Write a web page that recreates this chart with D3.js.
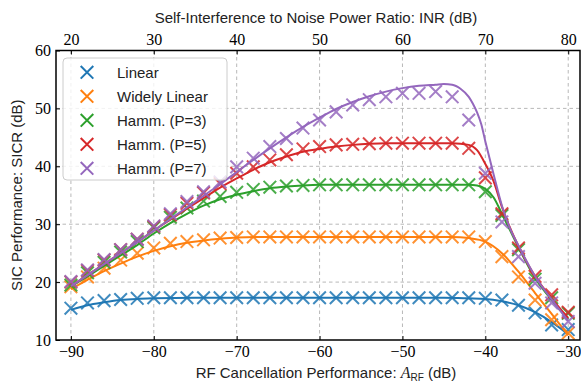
<!DOCTYPE html>
<html><head><meta charset="utf-8">
<script src="https://cdn.jsdelivr.net/npm/d3@7"></script>
<style>
body{margin:0;background:#fff;}
svg{display:block;}
</style></head>
<body><svg id="c" width="581" height="383"></svg>
<script>
// ---- data ----
const markerX = d3.range(-90, -29, 2); // -90 .. -30 step 2
const seriesNames = ["Linear", "Widely Linear", "Hamm. (P=3)", "Hamm. (P=5)", "Hamm. (P=7)"];
const seriesColors = ["#1f77b4", "#ff7f0e", "#2ca02c", "#d62728", "#9467bd"];

// simulated points (markers), one value per markerX
const linearPts = [15.5,16.4,16.8,17.0,17.2,17.3,17.3,17.3,17.3,17.3,17.3,17.3,17.3,17.3,17.3,17.3,17.3,17.3,17.3,17.3,17.3,17.3,17.3,17.3,17.3,17.2,16.9,16.0,14.7,12.6,11.8];
const wlPts = [19.2,20.9,22.4,23.8,25.0,25.9,26.7,27.0,27.3,27.6,27.7,27.8,27.8,27.8,27.8,27.8,27.8,27.8,27.8,27.8,27.8,27.8,27.8,27.8,27.8,27.0,24.4,20.9,16.9,13.5,11.2];
const p3Pts = [19.5,21.6,23.4,25.2,27.0,29.4,31.2,32.8,34.0,34.8,35.5,36.0,36.4,36.6,36.7,36.8,36.8,36.8,36.8,36.8,36.8,36.8,36.8,36.8,36.8,35.6,31.5,25.6,20.5,17.3,14.6];
const p5Pts = [20.0,22.0,23.8,25.6,27.4,29.6,31.6,33.6,35.4,37.0,38.8,39.9,41.1,42.0,43.0,43.4,43.7,43.8,43.9,44.0,44.0,44.0,44.0,44.0,43.1,38.0,31.8,25.9,21.0,17.8,14.8];
const p7Pts = [20.1,22.1,23.9,25.6,27.4,29.7,31.8,33.9,35.6,37.3,39.9,41.4,43.4,44.8,46.6,48.0,49.4,50.6,51.5,52.0,52.6,52.6,52.9,52.0,48.0,38.8,30.4,24.4,19.8,16.4,13.2];

// theoretical curves (lines): x positions and values
const linearLineX = [-90,-88,-86,-84,-82,-80,-75,-45,-42,-40,-38,-36,-34,-32,-30];
const linearLineY = [15.2,16.0,16.5,16.9,17.1,17.2,17.3,17.3,17.2,17.1,16.7,16.0,14.8,13.1,11.0];
const wlLineX = [-90,-88,-86,-84,-82,-80,-78,-76,-74,-72,-70,-66,-44,-42,-40,-38,-36,-34,-32,-30];
const wlLineY = [18.8,20.4,21.9,23.2,24.4,25.4,26.2,26.8,27.2,27.5,27.7,27.8,27.8,27.6,27.0,25.0,21.8,18.1,14.5,10.8];
const p3LineX = [-90,-88,-86,-84,-82,-80,-78,-76,-74,-72,-70,-68,-66,-64,-62,-60,-44,-42,-41,-40,-39,-38,-37,-36,-34,-32,-30];
const p3LineY = [19.2,21.0,22.8,24.6,26.4,28.4,30.2,31.8,33.2,34.3,35.1,35.7,36.2,36.5,36.7,36.8,36.8,36.8,36.7,36.1,34.6,31.8,28.9,26.0,20.7,16.9,13.6];
const p5LineX = [-90,-88,-86,-84,-82,-80,-78,-76,-74,-72,-70,-68,-66,-64,-62,-60,-58,-56,-54,-52,-44,-42,-41,-40,-39,-38,-37,-36,-34,-32,-30];
const p5LineY = [19.3,21.2,23.1,25.0,26.9,28.9,30.8,32.7,34.5,36.3,37.9,39.4,40.7,41.7,42.5,43.0,43.4,43.7,43.9,44.0,44.0,43.7,42.8,40.4,37.4,33.0,29.3,26.2,21.0,17.2,13.8];
const p7LineX = [-90,-88,-86,-84,-82,-80,-78,-76,-74,-72,-70,-68,-66,-64,-62,-60,-58,-56,-54,-52,-50,-48,-46,-45,-44,-43,-42,-41.5,-41,-40.5,-40,-39,-38,-37,-36,-34,-32,-30];
const p7LineY = [19.3,21.2,23.1,25.0,26.9,28.9,30.9,32.9,34.9,36.9,39.0,41.1,43.1,45.0,46.8,48.4,49.9,51.1,52.1,52.9,53.5,53.9,54.1,54.2,54.1,53.4,52.0,50.8,49.3,47.3,44.3,38.6,33.2,29.2,26.3,21.0,17.0,13.3];

const xTicks = [-90,-80,-70,-60,-50,-40,-30];
const topTicks = [20,30,40,50,60,70,80];
const yTicks = [10,20,30,40,50,60];
const topTitle = "Self-Interference to Noise Power Ratio: INR (dB)";
const yTitle = "SIC Performance: SICR (dB)";

// ---- layout ----
const L = 56, R = 580, T = 50.5, B = 340;
const x = d3.scaleLinear().domain([-91.8, -28.7]).range([L, 579]);
const xTop = d3.scaleLinear().domain([18.2, 81.3]).range([L, 579]);
const y = d3.scaleLinear().domain([10, 60]).range([B, T]);

const svg = d3.select("#c");
const serif = "'Liberation Serif','DejaVu Serif',serif";
const sans = "'Liberation Sans',Arial,'DejaVu Sans',sans-serif";

svg.append("defs").append("clipPath").attr("id","clip")
  .append("rect").attr("x", L).attr("y", T).attr("width", R - L).attr("height", B - T);

// grid
const grid = svg.append("g").attr("stroke", "#b0b0b0").attr("stroke-width", 0.9).attr("stroke-dasharray", "3.5,3");
grid.selectAll("line.v").data(xTicks).join("line").attr("class","v")
  .attr("x1", d => x(d)).attr("x2", d => x(d)).attr("y1", T).attr("y2", B);
grid.selectAll("line.h").data(yTicks.filter(d => d > 10 && d < 60)).join("line").attr("class","h")
  .attr("x1", L).attr("x2", R).attr("y1", d => y(d)).attr("y2", d => y(d));

// series
const series = [
  {pts: linearPts, lx: linearLineX, ly: linearLineY},
  {pts: wlPts, lx: wlLineX, ly: wlLineY},
  {pts: p3Pts, lx: p3LineX, ly: p3LineY},
  {pts: p5Pts, lx: p5LineX, ly: p5LineY},
  {pts: p7Pts, lx: p7LineX, ly: p7LineY}
];
const plot = svg.append("g").attr("clip-path", "url(#clip)");
const line = d3.line().x(d => x(d[0])).y(d => y(d[1])).curve(d3.curveMonotoneX);
const ms = 6.3;
function xPath(cx, cy) {
  return `M${cx-ms},${cy-ms}L${cx+ms},${cy+ms}M${cx-ms},${cy+ms}L${cx+ms},${cy-ms}`;
}
series.forEach((s, i) => {
  const g = plot.append("g");
  g.selectAll("path.m").data(markerX.map((xv, j) => [xv, s.pts[j]])).join("path").attr("class","m")
    .attr("d", d => xPath(x(d[0]), y(d[1])))
    .attr("stroke", seriesColors[i]).attr("stroke-width", 2).attr("fill", "none").attr("opacity", 0.85);
  g.append("path").datum(s.lx.map((xv, j) => [xv, s.ly[j]]))
    .attr("d", line).attr("fill", "none").attr("stroke", seriesColors[i]).attr("stroke-width", 2);
});

// axes
function styleAxis(g) {
  g.select(".domain").remove();
  g.selectAll(".tick line").attr("stroke", "#000").attr("stroke-width", 1);
  g.selectAll(".tick text").attr("font-family", serif).attr("font-size", 16).attr("fill", "#000");
}
svg.append("g").attr("transform", `translate(0,${B})`)
  .call(d3.axisBottom(x).tickValues(xTicks).tickSize(-4).tickPadding(6).tickFormat(d3.format("d")))
  .call(styleAxis);
svg.append("g").attr("transform", `translate(0,${T})`)
  .call(d3.axisTop(xTop).tickValues(topTicks).tickSize(-4).tickPadding(6).tickFormat(d3.format("d")))
  .call(styleAxis);
svg.append("g").attr("transform", `translate(${L},0)`)
  .call(d3.axisLeft(y).tickValues(yTicks).tickSize(-4).tickPadding(5).tickFormat(d3.format("d")))
  .call(styleAxis);

// frame
svg.append("rect").attr("x", L).attr("y", T).attr("width", R - L).attr("height", B - T)
  .attr("fill", "none").attr("stroke", "#000").attr("stroke-width", 1.5);

// legend
const lg = svg.append("g");
lg.append("rect").attr("x", 63).attr("y", 58).attr("width", 164).attr("height", 122).attr("rx", 4)
  .attr("fill", "#fff").attr("fill-opacity", 0.8).attr("stroke", "#cccccc").attr("stroke-width", 1);
seriesNames.forEach((n, i) => {
  const cy = 72.3 + i * 24;
  lg.append("path").attr("d", xPath(87, cy)).attr("stroke", seriesColors[i]).attr("stroke-width", 2).attr("fill","none");
  lg.append("text").attr("x", 117).attr("y", cy).attr("dy", "0.36em")
    .attr("font-family", sans).attr("font-size", 15).attr("fill", "#222").text(n);
});

// titles
svg.append("text").attr("x", 316).attr("y", 23).attr("text-anchor", "middle")
  .attr("font-family", sans).attr("font-size", 15).attr("fill", "#222").text(topTitle);
const bt = svg.append("text").attr("x", 326).attr("y", 378).attr("text-anchor", "middle")
  .attr("font-family", sans).attr("font-size", 15).attr("fill", "#222");
bt.append("tspan").text("RF Cancellation Performance: ");
bt.append("tspan").attr("font-family", serif).attr("font-style", "italic").attr("font-size", 16).text("A");
bt.append("tspan").attr("font-size", 10).attr("dy", 3).text("RF");
bt.append("tspan").attr("dy", -3).text(" (dB)");
svg.append("text").attr("transform", `translate(22,${(T + B) / 2}) rotate(-90)`).attr("text-anchor", "middle")
  .attr("font-family", sans).attr("font-size", 15).attr("fill", "#222").text(yTitle);
</script></body></html>
